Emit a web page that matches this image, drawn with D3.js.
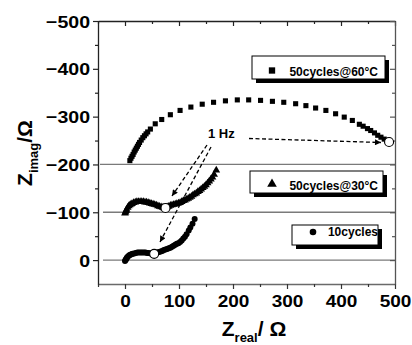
<!DOCTYPE html>
<html><head><meta charset="utf-8">
<script src="https://cdn.jsdelivr.net/npm/d3@7"></script>
<style>body{margin:0;background:#fff}svg{display:block}</style>
</head><body><svg id="c" width="412" height="345"></svg>
<script>
// ---------- data ----------
const xTickValues = [0, 100, 200, 300, 400, 500];
const yTickValues = [-500, -400, -300, -200, -100, 0];
const seriesNames = ["10cycles", "50cycles@30°C", "50cycles@60°C"];
const seriesOffsets = [0, -100, -200];   // vertical stacking offsets (Ω)

const zReal10 = [0,1,2,3,4,6,8,10,12,14,17,20,23,26,29,32,35,38,41,44,47,50,53,
  57,60,63,66,69,72,75,78,81,84,87,90,93,96,99,102,105,108,111,114,118,121,125,129];
const zImag10 = [2,0,-2,-4,-6,-8,-10,-11,-12,-13,-14,-15,-16,-16,-16,-16,-16,-16,-15,-15,-14,-14,-13,
  -15,-16,-17,-18,-19,-21,-22,-23,-25,-26,-28,-30,-32,-34,-35,-38,-41,-45,-49,-54,-62,-68,-76,-86];

const zReal30 = [0,1,2,3,5,7,9,11,13,16,19,22,25,28,31,34,37,40,43,46,49,52,55,58,61,64,67,70,72,
  78,81,84,87,90,93,96,99,102,105,108,111,114,117,120,123,126,129,132,135,138,141,144,147,150,153,156,159,162,165,169];
const zImag30 = [2,0,-3,-6,-10,-13,-15,-17,-18,-20,-21,-22,-22,-22,-22,-22,-21,-21,-20,-19,-18,-17,-16,-15,-13,-12,-11,-10,-9,
  -11,-12,-14,-15,-16,-17,-18,-19,-20,-22,-24,-25,-27,-29,-31,-33,-36,-38,-40,-43,-45,-48,-51,-54,-57,-61,-65,-69,-73,-79,-88];

const zReal60 = [9,11,13,15,17,19,21,23,25,27,30,33,36,39,42,47,56,68,84,102,122,143,164,186,208,229,251,273,294,316,335,353,372,390,406,421,434,441,449,455,462,468,474,480,485,489];
const zImag60 = [-8,-13,-17,-21,-26,-30,-34,-38,-42,-46,-51,-56,-60,-64,-68,-74,-85,-94,-104,-113,-120,-126,-130,-133,-135,-135,-134,-132,-130,-127,-123,-118,-113,-106,-99,-92,-84,-80,-75,-71,-66,-61,-57,-53,-50,-47];

// 1 Hz points (open circles), same order as series
const hz1Real = [54, 75, 489];
const hz1Imag = [-13, -9, -47];

// ---------- layout ----------
const svg = d3.select("#c");
const x = d3.scaleLinear().domain([-50, 500]).range([98, 395]);
const y = d3.scaleLinear().domain([-500, 50]).range([21, 284]);
const FONT = "'Liberation Sans', Arial, Helvetica, sans-serif";

// horizontal baseline lines
[[-200,100],[-100,103],[0,103]].forEach(([v,x0]) => {
  svg.append("line").attr("x1", x0).attr("x2", x(500)).attr("y1", y(v)).attr("y2", y(v))
    .attr("stroke", "#7a7a7a").attr("stroke-width", 1.3);
});

// axes
function styleAxis(g, color){
  g.selectAll("path.domain").attr("stroke", color).attr("stroke-width", 1.3);
  g.selectAll(".tick line").attr("stroke", color).attr("stroke-width", 1.2);
}
const minorX = d3.range(-50, 501, 50).filter(v => v % 100 !== 0);
const minorY = d3.range(-450, 1, 100);

// bottom
const gB = svg.append("g").attr("transform", `translate(0,${y(50)})`)
  .call(d3.axisBottom(x).tickValues(xTickValues).tickSize(5).tickSizeOuter(0).tickPadding(6));
gB.selectAll("text").attr("font-family", FONT).attr("font-weight", "bold").attr("font-size", 17).attr("fill", "#000")
  .attr("y", null).attr("dy", null).attr("transform", "translate(0,23) scale(1.12,1)");
styleAxis(gB, "#6a6a6a");
const gBm = svg.append("g").attr("transform", `translate(0,${y(50)})`)
  .call(d3.axisBottom(x).tickValues(minorX).tickSize(3).tickSizeOuter(0).tickFormat(""));
gBm.select("path.domain").remove(); styleAxis(gBm, "#333");
gB.selectAll(".tick line").attr("stroke", "#333");

// top
const gT = svg.append("g").attr("transform", `translate(0,${y(-500)})`)
  .call(d3.axisTop(x).tickValues(xTickValues).tickSize(-5).tickSizeOuter(0).tickFormat(""));
styleAxis(gT, "#222");
const gTm = svg.append("g").attr("transform", `translate(0,${y(-500)})`)
  .call(d3.axisTop(x).tickValues(minorX).tickSize(-3).tickSizeOuter(0).tickFormat(""));
gTm.select("path.domain").remove(); styleAxis(gTm, "#222");

// left
const gL = svg.append("g").attr("transform", `translate(${x(-50)},0)`)
  .call(d3.axisLeft(y).tickValues(yTickValues).tickSize(5).tickSizeOuter(0).tickPadding(3));
gL.selectAll("text").attr("font-family", FONT).attr("font-weight", "bold").attr("font-size", 17).attr("fill", "#000")
  .attr("x", null).attr("dy", null).attr("transform", "translate(-8,6) scale(1.15,1)");
styleAxis(gL, "#222");
const gLm = svg.append("g").attr("transform", `translate(${x(-50)},0)`)
  .call(d3.axisLeft(y).tickValues(minorY).tickSize(3).tickSizeOuter(0).tickFormat(""));
gLm.select("path.domain").remove(); styleAxis(gLm, "#222");

// right
const gR = svg.append("g").attr("transform", `translate(${x(500)},0)`)
  .call(d3.axisRight(y).tickValues(yTickValues).tickSize(-5).tickSizeOuter(0).tickFormat(""));
styleAxis(gR, "#555");
const gRm = svg.append("g").attr("transform", `translate(${x(500)},0)`)
  .call(d3.axisRight(y).tickValues(minorY).tickSize(-3).tickSizeOuter(0).tickFormat(""));
gRm.select("path.domain").remove(); styleAxis(gRm, "#555");

// axis titles
const xt = svg.append("text").attr("x", 254).attr("y", 336).attr("text-anchor", "middle")
  .attr("font-family", FONT).attr("font-weight", "bold").attr("font-size", 21);
xt.append("tspan").text("Z");
xt.append("tspan").attr("font-size", 13).attr("dy", 6).text("real");
xt.append("tspan").attr("dy", -6).text("/ Ω");

const yt = svg.append("text").attr("transform", "translate(32,153) rotate(-90)").attr("text-anchor", "middle")
  .attr("font-family", FONT).attr("font-weight", "bold").attr("font-size", 21);
yt.append("tspan").text("Z");
yt.append("tspan").attr("font-size", 13).attr("dy", 6).text("imag");
yt.append("tspan").attr("dy", -6).text("/Ω");

// ---------- data marks ----------
const series = [
  {re: zReal10, im: zImag10, shape: "circle"},
  {re: zReal30, im: zImag30, shape: "triangle"},
  {re: zReal60, im: zImag60, shape: "square"}
];
const symTri = d3.symbol().type(d3.symbolTriangle).size(26);
const symSq = d3.symbol().type(d3.symbolSquare).size(26);

series.forEach((s, i) => {
  const pts = s.re.map((r, k) => [r, s.im[k] + seriesOffsets[i]]);
  const g = svg.append("g");
  if (s.shape === "circle") {
    g.selectAll("circle").data(pts).join("circle")
      .attr("cx", d => x(d[0])).attr("cy", d => y(d[1])).attr("r", 3).attr("fill", "#000");
  } else {
    g.selectAll("path").data(pts).join("path")
      .attr("d", s.shape === "triangle" ? symTri : symSq)
      .attr("transform", d => `translate(${x(d[0])},${y(d[1])})`).attr("fill", "#000");
  }
});

// 1 Hz open circles
svg.append("g").selectAll("circle").data(hz1Real.map((r, i) => [r, hz1Imag[i] + seriesOffsets[i]]))
  .join("circle").attr("cx", d => x(d[0])).attr("cy", d => y(d[1])).attr("r", 4.5)
  .attr("fill", "#fff").attr("stroke", "#000").attr("stroke-width", 1.1);

// ---------- annotation ----------
const defs = svg.append("defs");
defs.append("marker").attr("id", "ah").attr("viewBox", "0 0 10 10").attr("refX", 10).attr("refY", 5)
  .attr("markerWidth", 8).attr("markerHeight", 6).attr("markerUnits", "userSpaceOnUse").attr("orient", "auto")
  .append("path").attr("d", "M0,0L10,5L0,10z").attr("fill", "#000");

svg.append("text").attr("x", 208).attr("y", 137.5).attr("font-family", FONT).attr("font-weight", "bold")
  .attr("font-size", 13).text("1 Hz");
const arrows = [[249,138.5,381,142.5],[207,145,172,196],[211,147,160,242]];
arrows.forEach(a => {
  svg.append("line").attr("x1", a[0]).attr("y1", a[1]).attr("x2", a[2]).attr("y2", a[3])
    .attr("stroke", "#000").attr("stroke-width", 1.3).attr("stroke-dasharray", "4,2.5")
    .attr("marker-end", "url(#ah)");
});

// ---------- legends ----------
const legends = [
  {name: seriesNames[2], shape: "square", box: [252, 56, 133, 23], mx: 272, my: 70.5, tx: 378, ty: 75.5},
  {name: seriesNames[1], shape: "triangle", box: [250, 171, 133, 22], mx: 272, my: 184, tx: 378, ty: 189.5},
  {name: seriesNames[0], shape: "circle", box: [292, 225, 86, 20], mx: 313, my: 232, tx: 378, ty: 236}
];
legends.forEach(L => {
  const [bx, by, bw, bh] = L.box;
  svg.append("rect").attr("x", bx + 4).attr("y", by + 4).attr("width", bw).attr("height", bh).attr("fill", "#000");
  svg.append("rect").attr("x", bx).attr("y", by).attr("width", bw).attr("height", bh)
    .attr("fill", "#fff").attr("stroke", "#000").attr("stroke-width", 1);
  if (L.shape === "circle") {
    svg.append("circle").attr("cx", L.mx).attr("cy", L.my).attr("r", 3.3).attr("fill", "#000");
  } else {
    svg.append("path").attr("d", d3.symbol().type(L.shape === "triangle" ? d3.symbolTriangle : d3.symbolSquare).size(40))
      .attr("transform", `translate(${L.mx},${L.my})`).attr("fill", "#000");
  }
  svg.append("text").attr("x", L.tx).attr("y", L.ty).attr("text-anchor", "end")
    .attr("font-family", FONT).attr("font-weight", "bold").attr("font-size", 12).text(L.name);
});
</script></body></html>
